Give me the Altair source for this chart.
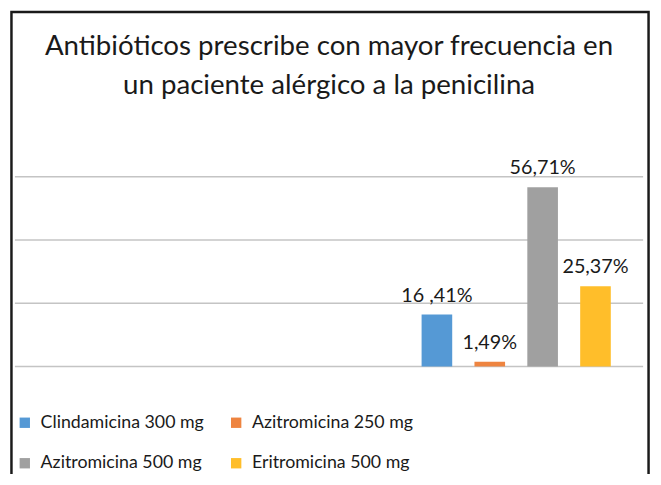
import altair as alt
import pandas as pd

series = ["Clindamicina 300 mg", "Azitromicina 250 mg", "Azitromicina 500 mg", "Eritromicina 500 mg"]
values = [16.41, 1.49, 56.71, 25.37]
labels = ["16 ,41%", "1,49%", "56,71%", "25,37%"]
colors = ["#5599D5", "#EE8440", "#A0A0A0", "#FFBE2A"]
grid_values = [0, 20, 40, 60]
title_lines = ["Antibióticos prescribe con mayor frecuencia en", "un paciente alérgico a la penicilina"]

# legend is filled column by column, so list it in that order to read row by row
legend_order = [series[0], series[2], series[1], series[3]]
legend_colors = [colors[0], colors[2], colors[1], colors[3]]

df = pd.DataFrame({"serie": series, "valor": values, "etiqueta": labels})
grid_df = pd.DataFrame({"g": grid_values})

FONT = "Lato"
W, H = 636, 192

xscale = alt.Scale(domain=series, range=[401, 614], paddingInner=0.42, paddingOuter=0.2)
yscale = alt.Scale(domain=[0, 60], nice=False)

grid = alt.Chart(grid_df).mark_rule(color="#C4C4C4", strokeWidth=1.5).encode(
    y=alt.Y("g:Q", scale=yscale, axis=None),
    x=alt.value(0), x2=alt.value(W),
)

bars = alt.Chart(df).mark_bar(size=31).encode(
    x=alt.X("serie:N", scale=xscale, sort=series, axis=None),
    y=alt.Y("valor:Q", scale=yscale, axis=None),
    color=alt.Color("serie:N",
                    scale=alt.Scale(domain=legend_order, range=legend_colors),
                    legend=alt.Legend(title=None, orient="none", legendX=1, legendY=240,
                                      columns=2, symbolType="square", symbolSize=110,
                                      symbolStrokeWidth=0, symbolOpacity=1,
                                      labelFont=FONT, labelFontSize=18, labelColor="#1a1a1a",
                                      labelOffset=7, rowPadding=23, columnPadding=23,
                                      labelLimit=300)),
)

text = alt.Chart(df).mark_text(font=FONT, fontSize=20, color="#1a1a1a", baseline="alphabetic", dy=-13).encode(
    x=alt.X("serie:N", scale=xscale, sort=series),
    y=alt.Y("valor:Q", scale=yscale),
    text="etiqueta:N",
)

border = alt.Chart(pd.DataFrame({"k": [0]})).mark_rect(
    fill=None, stroke="#1a1a1a", strokeWidth=2.5
).encode(
    x=alt.value(-3.5), x2=alt.value(641.5), y=alt.value(-166.75), y2=alt.value(330)
)

chart = alt.layer(grid, bars, text, border).properties(
    width=W, height=H,
    title=alt.TitleParams(title_lines, anchor="middle", font=FONT, fontSize=28,
                          fontWeight="normal", color="#1a1a1a", offset=-90, lineHeight=39.5),
    autosize=alt.AutoSizeParams(type="none"),
    padding={"left": 7, "top": 168, "right": 10, "bottom": 106},
).configure_view(stroke=None)

chart.save("out.html", embed_options={"renderer": "svg", "actions": False})
